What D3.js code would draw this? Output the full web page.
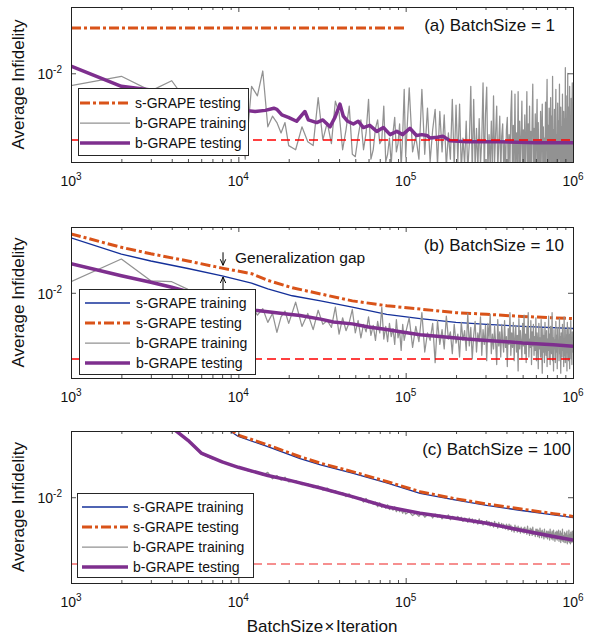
<!DOCTYPE html>
<html>
<head>
<meta charset="utf-8">
<script src="https://cdn.jsdelivr.net/npm/d3@7"></script>
<style>
  body { margin: 0; background: #fff; }
  text { font-family: "Liberation Sans", Arial, Helvetica, sans-serif; fill: #111; }
</style>
</head>
<body>
<svg id="fig" width="601" height="637"></svg>
<script>
/* Average infidelity vs BatchSize x Iteration, three batch sizes.
 * All infidelity values below are in units of 1e-3. */
var milli = 1e-3;

// sample grid (BatchSize x Iteration, thousands) of the b-GRAPE training traces
var sampleK = [].concat(d3.range(1, 21), d3.range(22, 101, 2), d3.range(105, 1001, 5));

// reference floor (red dashed)
var floorX = [1e3, 1e6];
var floorV = [3.2, 3.2];

/* ---- (a) BatchSize = 1 ---- */
var sTestA_x = [1000, 2000, 5000, 10000, 20000, 50000, 100000];
var sTestA = [21.7, 21.7, 21.7, 21.7, 21.7, 21.7, 21.7];
var bTestA_x = [1000, 2000, 3000, 4000, 5000, 7000, 9000, 11000, 12600, 14500,
  16300, 17000, 18200, 19900, 22300, 25000, 26200, 29400, 32000, 35300,
  37800, 40500, 42400, 45000, 48700, 52000, 55900, 61000, 67200, 73600,
  80700, 88500, 96000, 106000, 116000, 125000, 134000, 140000, 155000, 167000,
  184000, 232000, 366000, 600000, 1000000];
var bTestA = [11.3, 8.0, 7.5, 7.0, 6.6, 6.1, 5.7, 5.3, 5.2, 5.3,
  5.5, 5.4, 4.9, 4.7, 4.4, 5.2, 4.5, 4.3, 4.5, 4.0,
  4.7, 5.9, 4.8, 4.4, 4.2, 4.4, 3.95, 4.1, 3.7, 3.95,
  3.5, 3.7, 3.5, 3.9, 3.45, 3.5, 3.45, 3.3, 3.35, 3.4,
  3.15, 3.1, 3.1, 3.05, 3.05];
var bTrainA = [8.1, 9.5, 7.4, 8.8, 6.0, 7.0, 5.6, 6.6, 5.2, 6.2, 2.3, 8.0, 6.8, 10.4, 4.0, 4.8, 4.3, 3.6, 4.3, 2.9,
  2.7, 4.0, 3.1, 2.9, 6.6, 3.2, 4.3, 3.0, 6.2, 5.1, 2.7, 3.8, 5.7, 2.5, 2.4, 3.4, 4.5, 2.7, 3.6, 6.4,
  2.3, 2.7, 3.9, 4.5, 3.0, 3.2, 5.7, 2.2, 2.5, 3.3, 2.1, 3.6, 4.7, 2.6, 3.0, 4.2, 2.0, 3.5, 7.6, 2.4,
  7.8, 2.6, 3.4, 2.3, 7.6, 2.5, 5.5, 2.2, 3.8, 5.4, 2.1, 5.2, 2.6, 4.9, 2.0, 3.6, 2.3, 6.4, 2.0, 5.8,
  2.2, 5.9, 1.9, 3.3, 2.1, 4.4, 1.9, 3.0, 8.0, 1.8, 6.4, 2.0, 3.9, 1.9, 4.6, 2.1, 3.2, 8.5, 1.8, 5.0,
  7.9, 1.9, 3.5, 2.0, 4.4, 1.8, 6.8, 2.2, 3.6, 5.7, 1.9, 3.0, 4.8, 1.8, 3.4, 4.2, 2.0, 3.1, 1.9, 3.8,
  4.7, 1.9, 3.5, 2.1, 5.0, 7.4, 1.8, 4.1, 2.0, 7.0, 1.9, 3.6, 2.2, 7.3, 1.8, 4.4, 2.0, 3.3, 6.2, 1.9,
  3.8, 2.1, 4.9, 1.8, 3.4, 7.3, 1.9, 4.2, 2.0, 5.7, 1.8, 3.7, 2.2, 4.6, 8.3, 1.9, 3.9, 2.1, 5.0, 1.8,
  3.5, 6.4, 1.9, 4.3, 2.0, 3.2, 1.8, 5.2, 2.1, 3.6, 5.9, 1.9, 4.0, 2.2, 3.3, 1.8, 6.1, 2.0, 4.5, 9.0,
  1.9, 4.1, 2.1, 5.5, 1.8, 3.6, 6.6, 2.0, 4.8, 1.9, 9.5, 2.2, 3.8, 1.8, 5.4, 2.0, 4.2, 7.6, 1.9, 3.5,
  2.1, 6.0, 1.8, 4.4, 2.3, 8.3, 1.9, 3.7, 5.6, 2.0, 4.0, 1.8, 7.0, 2.2, 3.4, 5.2, 1.9, 4.6, 2.0, 11.0,
  1.9, 6.8, 2.1, 4.2, 1.8, 10.0, 2.0, 5.6, 3.0, 1.9, 8.0, 2.2, 4.7, 1.8, 6.5, 2.0, 3.9, 8.5, 2.1, 5.0];

/* ---- (b) BatchSize = 10 ---- */
var sB_x = [1000, 2000, 3000, 5000, 8000, 12000, 15000, 21000, 31000, 48000,
  77000, 122000, 200000, 305000, 500000, 1000000];
var sTrainB = [25.8, 19.5, 17.3, 15.2, 13.4, 11.8, 10.7, 9.5, 8.7, 7.8, 6.9, 6.4, 6.0, 5.8, 5.6, 5.4];
var sTestB = [27.6, 21.9, 19.6, 17.3, 15.3, 13.9, 12.4, 10.9, 9.8, 8.7, 8.0, 7.55, 7.1, 6.9, 6.65, 6.4];
var bTestB_x = [1000, 2000, 3000, 4000, 5000, 7000, 10000, 12600, 15000, 20000,
  23400, 31000, 37000, 48000, 60000, 77000, 93000, 122000, 160000, 233000,
  305000, 400000, 500000, 765000, 1000000];
var bTestB = [16.5, 13.4, 12.0, 11.0, 10.2, 9.0, 7.9, 7.4, 7.2, 6.9,
  6.75, 6.35, 6.05, 5.85, 5.55, 5.3, 5.1, 4.85, 4.7, 4.5,
  4.4, 4.3, 4.2, 4.08, 3.98];
var bTrainB = [12.1, 17.9, 12.3, 12.1, 10.6, 10.0, 9.4, 8.8, 9.0, 8.0, 7.2, 8.0, 6.8, 7.6, 6.0, 7.0, 5.05, 6.6, 7.3, 5.9,
  8.5, 5.6, 7.0, 5.3, 7.4, 5.8, 6.2, 5.5, 7.8, 4.9, 6.5, 5.2, 6.0, 7.5, 5.0, 6.2, 4.6, 5.8, 5.1, 6.6,
  4.8, 5.7, 4.4, 6.1, 5.0, 7.8, 4.5, 5.6, 4.3, 5.9, 4.7, 5.4, 4.1, 6.3, 4.6, 5.2, 3.7, 5.8, 4.4, 5.0,
  6.5, 3.9, 5.6, 4.3, 7.1, 3.6, 5.0, 4.4, 5.9, 3.0, 6.2, 4.1, 5.3, 3.8, 6.7, 4.5, 5.1, 3.5, 5.8, 4.2,
  4.9, 3.3, 6.0, 4.4, 5.2, 3.7, 7.0, 4.0, 5.5, 3.2, 4.8, 6.1, 3.6, 5.0, 4.3, 6.6, 3.4, 5.3, 4.1, 5.7,
  3.1, 5.9, 4.5, 6.9, 3.5, 4.9, 3.8, 5.6, 4.2, 2.9, 6.3, 4.0, 5.1, 3.3, 5.8, 4.4, 3.6, 6.2, 3.9, 4.7,
  2.8, 5.4, 4.1, 7.1, 3.4, 5.0, 3.9, 6.0, 3.1, 4.6, 5.7, 3.6, 4.8, 2.6, 6.4, 3.8, 5.2, 4.3, 3.2, 5.9,
  4.0, 6.8, 3.5, 4.9, 3.0, 5.6, 4.2, 7.1, 3.3, 4.5, 3.9, 6.2, 2.9, 5.1, 4.0, 5.8, 3.4, 4.7, 3.7, 6.5,
  3.1, 5.0, 4.3, 2.7, 5.9, 3.8, 4.6, 3.3, 6.3, 4.0, 2.5, 5.4, 3.6, 4.8, 3.0, 6.0, 4.1, 3.4, 5.2, 2.8,
  4.5, 3.7, 6.7, 3.2, 4.9, 2.9, 5.6, 4.0, 3.5, 7.1, 3.1, 4.6, 2.6, 5.3, 3.8, 4.4, 3.0, 6.1, 3.6, 4.8,
  2.7, 5.5, 3.9, 4.3, 3.1, 6.4, 3.5, 4.7, 2.5, 5.0, 4.1, 3.3, 5.8, 3.7, 4.5, 2.8, 6.6, 3.4, 4.2, 3.0,
  5.3, 3.6, 4.8, 2.6, 6.0, 3.9, 4.4, 3.1, 5.5, 3.5, 2.7, 4.9, 3.8, 6.2, 3.2, 4.5, 2.9, 5.1, 3.6, 4.2];

/* ---- (c) BatchSize = 100 ---- */
var sC_x = [8000, 10000, 15000, 23400, 31000, 48000, 77000, 122000, 193000, 305000, 480000, 765000, 1000000];
var sTrainC = [34, 28.3, 23.8, 19.4, 17.4, 15.1, 12.8, 10.7, 9.6, 8.7, 8.0, 7.4, 7.05];
var sTestC = [35, 29.0, 24.5, 20.0, 17.9, 15.5, 13.1, 11.0, 9.8, 8.9, 8.2, 7.55, 7.2];
var bTestC_x = [1000, 2000, 3000, 4000, 5000, 6000, 8000, 10000, 15000, 20000,
  31000, 48000, 77000, 122000, 193000, 305000, 480000, 765000, 1000000];
var bTestC = [60, 48, 40, 33, 26.5, 21.3, 18.3, 16.7, 14.5, 13.4,
  11.7, 10.1, 8.5, 7.6, 7.0, 6.4, 5.7, 5.1, 4.8];
var bTrainC = [60, 48, 40, 33, 26.5, 21.0, 19.3, 18.6, 17.2, 16.9, 16.0, 15.4, 15.5, 14.6, 15.3, 13.7, 14.5, 13.4, 14.1, 13.0,
  13.3, 12.4, 12.6, 11.8, 12.1, 11.3, 11.7, 10.9, 11.2, 10.6, 10.8, 10.1, 10.6, 9.9, 10.1, 9.7, 9.9, 9.2, 9.8, 9.1,
  9.3, 8.9, 9.2, 8.5, 9.1, 8.4, 8.7, 8.3, 8.8, 8.1, 8.4, 8.0, 8.5, 7.8, 8.2, 7.8, 8.1, 7.6, 8.0, 7.5,
  7.8, 7.3, 7.6, 7.2, 7.7, 7.1, 7.4, 7.5, 7.0, 7.5, 7.1, 7.4, 6.9, 7.3, 7.0, 7.4, 6.8, 7.2, 7.1, 6.9,
  7.2, 6.8, 7.1, 6.6, 7.0, 6.9, 6.5, 7.0, 6.6, 6.9, 6.4, 6.8, 6.7, 6.3, 6.9, 6.5, 6.7, 6.2, 6.6, 6.4,
  6.7, 6.2, 6.6, 6.1, 6.5, 6.4, 6.0, 6.6, 6.1, 6.4, 5.9, 6.5, 6.2, 6.0, 6.4, 5.9, 6.3, 6.1, 5.8, 6.3,
  6.1, 5.7, 6.3, 5.8, 6.2, 5.6, 6.0, 5.9, 5.5, 6.2, 5.7, 6.0, 5.5, 6.1, 5.6, 5.9, 5.4, 6.0, 5.7, 5.5,
  5.9, 5.4, 6.0, 5.5, 5.8, 5.3, 6.1, 5.5, 5.7, 5.2, 5.9, 5.4, 5.8, 5.2, 6.0, 5.3, 5.6, 5.5, 5.1, 5.8,
  5.3, 5.8, 5.1, 5.7, 5.4, 5.0, 5.9, 5.2, 5.6, 5.0, 5.7, 5.3, 5.5, 4.9, 5.8, 5.1, 5.4, 5.0, 5.6, 5.2,
  4.9, 5.6, 5.1, 5.5, 4.8, 5.8, 5.0, 5.4, 4.9, 5.6, 5.2, 4.8, 5.7, 5.0, 5.3, 4.7, 5.5, 5.1, 4.9, 5.6,
  4.8, 5.5, 5.0, 5.7, 4.7, 5.3, 4.9, 5.6, 4.6, 5.4, 5.1, 4.8, 5.8, 4.7, 5.2, 5.0, 4.6, 5.5, 4.9, 5.3,
  4.6, 5.4, 4.8, 5.6, 4.5, 5.2, 5.0, 4.7, 5.7, 4.6, 5.3, 4.9, 4.5, 5.5, 4.8, 5.1, 4.6, 5.6, 4.7, 5.0];

var majorX = [1e3, 1e4, 1e5, 1e6];
var majorY = [1e-2];

/* ---- styles and layout ---- */
var styles = {
  sTrain: {label: "s-GRAPE training", color: "#14309a", width: 1.3, dash: null},
  sTest: {label: "s-GRAPE testing", color: "#d95319", width: 3, dash: "10,3,3,3"},
  bTrain: {label: "b-GRAPE training", color: "#929292", width: 1.25, dash: null},
  bTest: {label: "b-GRAPE testing", color: "#7e2f8e", width: 3.5, dash: null}
};

function pts(xs, vs) {
  return xs.map(function (d, i) { return [d, vs[i] * milli]; });
}
var sampleX = sampleK.map(function (k) { return k * 1000; });

var panels = [
  {name: "(a) BatchSize = 1", top: 7, height: 155, yLow: 2.19e-3, labelX: 555,
   floorColor: "#ff0000",
   series: [["sTest", pts(sTestA_x, sTestA)], ["bTrain", pts(sampleX, bTrainA)],
            ["bTest", pts(bTestA_x, bTestA)]],
   legend: {x: 78, y: 88, w: 170, h: 67, lx0: 80, lx1: 130, tx: 135, first: 15}},
  {name: "(b) BatchSize = 10", top: 227, height: 151, yLow: 2.3e-3, labelX: 564,
   floorColor: "#ff0000",
   series: [["sTrain", pts(sB_x, sTrainB)], ["sTest", pts(sB_x, sTestB)],
            ["bTrain", pts(sampleX, bTrainB)], ["bTest", pts(bTestB_x, bTestB)]],
   legend: {x: 79, y: 289, w: 176, h: 85, lx0: 85, lx1: 130, tx: 136, first: 14}},
  {name: "(c) BatchSize = 100", top: 431, height: 152, yLow: 2.3e-3, labelX: 571,
   floorColor: "#f36b6b",
   series: [["sTrain", pts(sC_x, sTrainC)], ["sTest", pts(sC_x, sTestC)],
            ["bTrain", pts(sampleX, bTrainC)], ["bTest", pts(bTestC_x, bTestC)]],
   legend: {x: 77, y: 493, w: 176, h: 84, lx0: 82, lx1: 128, tx: 133, first: 14}}
];

var svg = d3.select("#fig");
var plotLeft = 71, plotRight = 573;
var yTop = 3.11e-2;

var x = d3.scaleLog().domain([1e3, 1e6]).range([plotLeft, plotRight]);
var minorX = x.ticks().filter(function (v) { return majorX.indexOf(v) < 0; });

function styleLine(sel, st) {
  sel.attr("fill", "none")
    .attr("stroke", st.color)
    .attr("stroke-width", st.width)
    .attr("stroke-linejoin", "round")
    .attr("stroke-dasharray", st.dash);
}

function superLabel(sel, power) {
  sel.append("tspan").text("10");
  sel.append("tspan").attr("dy", -6).style("font-size", "10px").text(power);
}

panels.forEach(function (p, pi) {
  var bottom = p.top + p.height;
  var y = d3.scaleLog().domain([p.yLow, yTop]).range([bottom, p.top]);
  var line = d3.line()
    .x(function (d) { return x(d[0]); })
    .y(function (d) { return y(d[1]); });

  var g = svg.append("g").attr("class", "panel");

  g.append("clipPath").attr("id", "clip" + pi)
    .append("rect")
      .attr("x", plotLeft).attr("y", p.top)
      .attr("width", plotRight - plotLeft).attr("height", p.height);

  var plot = g.append("g").attr("clip-path", "url(#clip" + pi + ")");

  // draw order: s-GRAPE first, b-GRAPE on top
  ["sTrain", "sTest", "bTrain", "bTest"].forEach(function (key) {
    p.series.filter(function (s) { return s[0] === key; }).forEach(function (s) {
      plot.append("path").datum(s[1]).attr("d", line).call(styleLine, styles[key]);
    });
  });

  // floor line, centred on a pixel boundary so the dashes spread over two rows
  var floorLine = d3.line()
    .x(function (d) { return x(d[0]); })
    .y(function (d) { return Math.round(y(d[1])); });
  plot.append("path")
    .datum(pts(floorX, floorV))
    .attr("d", floorLine)
    .attr("fill", "none")
    .attr("stroke", p.floorColor)
    .attr("stroke-width", 1.3)
    .attr("stroke-dasharray", "9,5");

  // ticks (inward, MATLAB style) on all four sides
  function ticks(axis, tx, ty) {
    g.append("g")
      .attr("transform", "translate(" + tx + "," + ty + ")")
      .attr("color", "#222")
      .call(axis)
      .call(function (a) { a.select(".domain").remove(); })
      .selectAll("line").attr("stroke-width", 0.8);
  }
  function tk(fn, scale, vals, len) {
    return fn(scale).tickValues(vals).tickSizeInner(-len).tickSizeOuter(0).tickFormat("");
  }
  ticks(tk(d3.axisBottom, x, majorX, 5), 0, bottom);
  ticks(tk(d3.axisBottom, x, minorX, 3), 0, bottom);
  ticks(tk(d3.axisTop, x, majorX, 5), 0, p.top);
  ticks(tk(d3.axisTop, x, minorX, 3), 0, p.top);
  ticks(tk(d3.axisLeft, y, majorY, 5), plotLeft, 0);
  ticks(tk(d3.axisRight, y, majorY, 5), plotRight, 0);

  g.append("rect")
    .attr("x", plotLeft).attr("y", p.top)
    .attr("width", plotRight - plotLeft).attr("height", p.height)
    .attr("fill", "none").attr("stroke", "#222").attr("stroke-width", 1)
    .attr("shape-rendering", "crispEdges");

  // tick labels
  g.selectAll(".xlab").data(majorX).enter().append("text")
    .attr("class", "xlab")
    .attr("x", function (d) { return x(d); })
    .attr("y", bottom + 24)
    .attr("text-anchor", "middle")
    .style("font-size", "14px")
    .each(function (d) { superLabel(d3.select(this), Math.round(Math.log10(d))); });

  g.selectAll(".ylab").data(majorY).enter().append("text")
    .attr("class", "ylab")
    .attr("x", plotLeft - 9)
    .attr("y", function (d) { return y(d) + 6; })
    .attr("text-anchor", "end")
    .style("font-size", "14px")
    .each(function (d) { superLabel(d3.select(this), Math.round(Math.log10(d))); });

  g.append("text")
    .attr("transform", "translate(24," + (p.top + p.height / 2) + ") rotate(-90)")
    .attr("text-anchor", "middle")
    .style("font-size", "17px")
    .text("Average Infidelity");

  g.append("text")
    .attr("x", p.labelX)
    .attr("y", p.top + 24)
    .attr("text-anchor", "end")
    .style("font-size", "17px")
    .text(p.name);

  // legend
  var L = p.legend;
  var lg = g.append("g");
  lg.append("rect")
    .attr("x", L.x).attr("y", L.y).attr("width", L.w).attr("height", L.h)
    .attr("fill", "#fff").attr("stroke", "#262626").attr("stroke-width", 1)
    .attr("shape-rendering", "crispEdges");
  var rows = lg.selectAll(".row").data(p.series).enter().append("g")
    .attr("transform", function (d, i) { return "translate(0," + (L.y + L.first + i * 20) + ")"; });
  rows.append("line")
    .attr("x1", L.lx0).attr("x2", L.lx1)
    .each(function (d) { d3.select(this).call(styleLine, styles[d[0]]); });
  rows.append("text")
    .attr("x", L.tx).attr("y", 5)
    .style("font-size", "14px")
    .text(function (d) { return styles[d[0]].label; });

  // generalization gap annotation in panel (b)
  if (pi === 1) {
    var gx = 8100;
    var yTest = y(d3.scaleLog().domain([8000, 12000]).range([sTestB[4], sTestB[5]])(gx) * milli);
    var yTrain = y(d3.scaleLog().domain([8000, 12000]).range([sTrainB[4], sTrainB[5]])(gx) * milli);
    var ax = x(gx);
    var ann = g.append("g").attr("stroke", "#000").attr("stroke-width", 1).attr("fill", "none");
    ann.append("line").attr("x1", ax).attr("x2", ax).attr("y1", yTest - 16).attr("y2", yTest - 3);
    ann.append("path").attr("d", "M" + (ax - 2.7) + "," + (yTest - 9) + "L" + ax + "," + (yTest - 3) + "L" + (ax + 2.7) + "," + (yTest - 9));
    ann.append("line").attr("x1", ax).attr("x2", ax).attr("y1", yTrain + 14).attr("y2", yTrain + 1);
    ann.append("path").attr("d", "M" + (ax - 2.7) + "," + (yTrain + 7) + "L" + ax + "," + (yTrain + 1) + "L" + (ax + 2.7) + "," + (yTrain + 7));
    g.append("text")
      .attr("x", ax + 12)
      .attr("y", yTest - 5)
      .style("font-size", "15.5px")
      .text("Generalization gap");
  }
});

svg.append("text")
  .attr("x", (plotLeft + plotRight) / 2)
  .attr("y", 632)
  .attr("text-anchor", "middle")
  .style("font-size", "17px")
  .text("BatchSize\u200A\u00D7\u200AIteration");
</script>
</body>
</html>
